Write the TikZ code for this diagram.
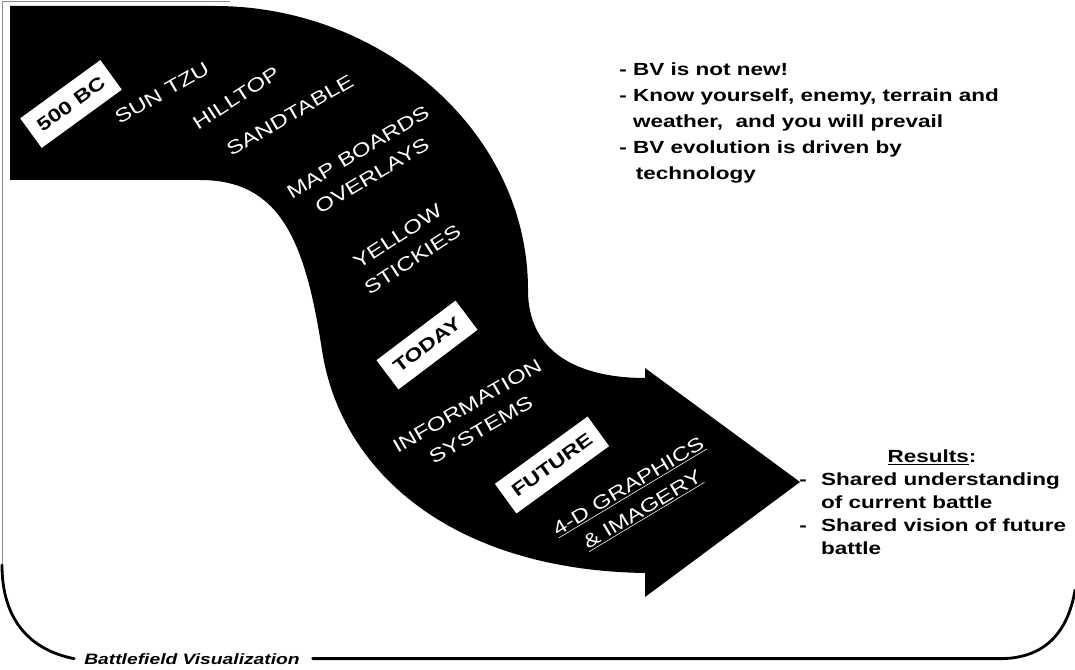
\documentclass[tikz,border=0pt]{standalone}
\usepackage{fontspec}
\newfontfamily\slidefont[FakeStretch=1.28]{Liberation Sans}
\newcommand{\bvdash}{\makebox[15.5pt][l]{-}}
\usetikzlibrary{positioning}

\begin{document}
\begin{tikzpicture}[x=0.025cm,y=-0.025cm]

\tikzset{steplabel/.style={text=white,font=\slidefont\fontsize{13.5}{19.5}\selectfont,align=center,inner sep=0pt},
milestone/.style={fill=white,text=black,font=\slidefont\bfseries\fontsize{13}{15}\selectfont,minimum height=26pt,inner xsep=7pt,inner ysep=0pt},
sidetext/.style={font=\slidefont\bfseries\fontsize{12.5}{18.5}\selectfont,align=left,inner sep=0pt},
frameline/.style={line width=2pt,line cap=round},
thinframe/.style={draw=black!45,line width=0.5pt}}

\useasboundingbox (0,0) rectangle (1075,669);

% Evolution band with arrow head
\fill (10,6) -- (215,6) .. controls (380,6) and (528,130) .. (528,290)
  .. controls (528,360) and (590,378) .. (645,378) -- (645,368) -- (800,482)
  -- (645,597) -- (645,573) .. controls (450,570) and (340,470) .. (322,350)
  .. controls (305,240) and (280,180) .. (200,180) -- (10,180) -- cycle;

% Milestones
\node (bc) [milestone,rotate=36] at (71,104) {500 BC};
\node (today) [milestone,rotate=37] at (427,345) {TODAY};
\node (future) [milestone,rotate=36] at (552,465) {FUTURE};

% Steps along the band
\node (suntzu) [steplabel,rotate=30] at (162,93) {SUN TZU};
\node (hilltop) [steplabel,rotate=33] at (236,98) {HILLTOP};
\node (sandtable) [steplabel,rotate=30] at (290,115) {SANDTABLE};
\node (mapboards) [steplabel,rotate=31] at (365,164) {MAP BOARDS\\OVERLAYS};
\node (stickies) [steplabel,rotate=33] at (405,248) {YELLOW\\STICKIES};
\node (infosys) [steplabel,rotate=30] at (474,418) {INFORMATION\\SYSTEMS};
\node (graphics) [steplabel,rotate=31] at (636,499) {\underline{4-D GRAPHICS}\\\underline{\& IMAGERY}};

% Side notes
\node (lessons) [sidetext,anchor=north west] at (619,62)
  {- BV is not new!\\
   - Know yourself, enemy, terrain and\\
   \hphantom{- }weather,~ and you will prevail\\
   - BV evolution is driven by\\
   \hphantom{- }\,technology};
\node (results) [sidetext,anchor=base] at (932,462) {\underline{Results}:};
\node (gains) [sidetext,anchor=north west,font=\slidefont\bfseries\fontsize{12.5}{16.4}\selectfont] at (799,472)
  {\bvdash Shared understanding\\
   \hphantom{\bvdash}of current battle\\
   \bvdash Shared vision of future\\
   \hphantom{\bvdash}battle};

% Frame
\node (title) [anchor=base west,inner sep=0pt,font=\slidefont\bfseries\itshape\fontsize{10.7}{13}\selectfont] at (84,664) {Battlefield Visualization};
\coordinate (bend) at (1000,0);
\coordinate (corner) at (2,565);
\draw[thinframe] (230,1) -- (2,1) -- (corner);
\draw[frameline] (corner) .. controls (2,620) and (30,650) .. ([xshift=-7pt]title.west);
\draw[frameline] ([xshift=9pt]title.east) -- (title.east -| bend)
  .. controls +(45,0) and +(-7,42) .. (1075,590);

\end{tikzpicture}
\end{document}
